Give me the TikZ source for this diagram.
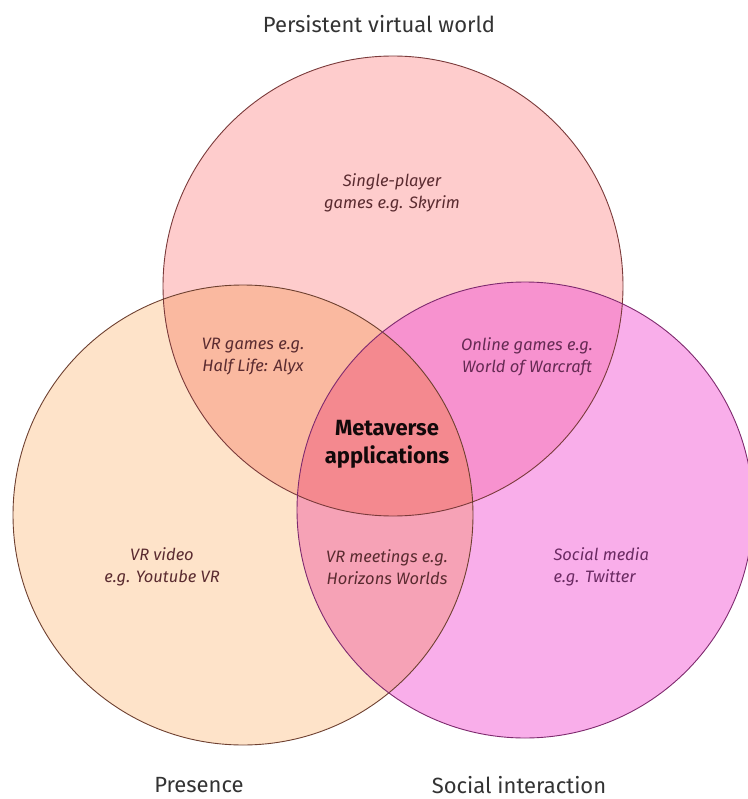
\documentclass[tikz,border=0pt]{standalone}
\usepackage{fontspec}
\setmainfont{Fira Sans}
\begin{document}
\begin{tikzpicture}[x=1pt,y=-1pt,
  lbl/.style={font=\itshape\fontsize{16.5}{22}\selectfont, align=center, text=labc},
  ttl/.style={font=\fontsize{22}{26}\selectfont, text=ttlc},
  rim/.style={line width=0.9pt}]
\definecolor{topc}{HTML}{FECCCC}
\definecolor{leftc}{HTML}{FEE3C9}
\definecolor{rightc}{HTML}{F9AEEA}
\definecolor{ltc}{HTML}{FAB9A0}
\definecolor{trc}{HTML}{F792CF}
\definecolor{lrc}{HTML}{F6A2B6}
\definecolor{allc}{HTML}{F4898F}
\definecolor{labc}{HTML}{5A2B30}
\definecolor{labr}{HTML}{6A2A62}
\definecolor{ttlc}{HTML}{333333}
\definecolor{topo}{HTML}{7A3A3A}
\definecolor{lefto}{HTML}{6E4030}
\definecolor{righto}{HTML}{7E2A6E}
\useasboundingbox (0,0) rectangle (747,799);
\coordinate (T) at (393,286);
\coordinate (L) at (243,515);
\coordinate (R) at (525,510);
% single regions
\fill[topc] (T) circle (230);
\fill[leftc] (L) circle (230);
\fill[rightc] (R) circle (228);
% pairwise
\begin{scope}\clip (T) circle (230); \fill[ltc] (L) circle (230); \end{scope}
\begin{scope}\clip (T) circle (230); \fill[trc] (R) circle (228); \end{scope}
\begin{scope}\clip (L) circle (230); \fill[lrc] (R) circle (228); \end{scope}
\begin{scope}\clip (T) circle (230); \clip (L) circle (230); \fill[allc] (R) circle (228); \end{scope}
% outlines
\draw[rim, topo] (T) circle (230);
\draw[rim, lefto] (L) circle (230);
\draw[rim, righto] (R) circle (228);
% labels
\node[lbl] (sp) at (392,193) {Single-player\\games e.g. Skyrim};
\node[lbl] (vg) at (253,357) {VR games e.g.\\Half Life: Alyx};
\node[lbl, text=labr!70!labc] (og) at (527,357) {Online games e.g.\\World of Warcraft};
\node[font=\bfseries\fontsize{22}{28}\selectfont, align=center, text=black!80!labc] (mv) at (387,444) {Metaverse\\applications};
\node[lbl] (vm) at (387,567) {VR meetings e.g.\\Horizons Worlds};
\node[lbl] (vv) at (162,567) {VR video\\e.g. Youtube VR};
\node[lbl, text=labr, align=left, anchor=west] (sm) at (550,567) {Social media\\e.g. Twitter};
\node[ttl] (pw) at (379,24) {Persistent virtual world};
\node[ttl] (pr) at (199,785) {Presence};
\node[ttl] (si) at (519,785) {Social interaction};
\end{tikzpicture}
\end{document}
